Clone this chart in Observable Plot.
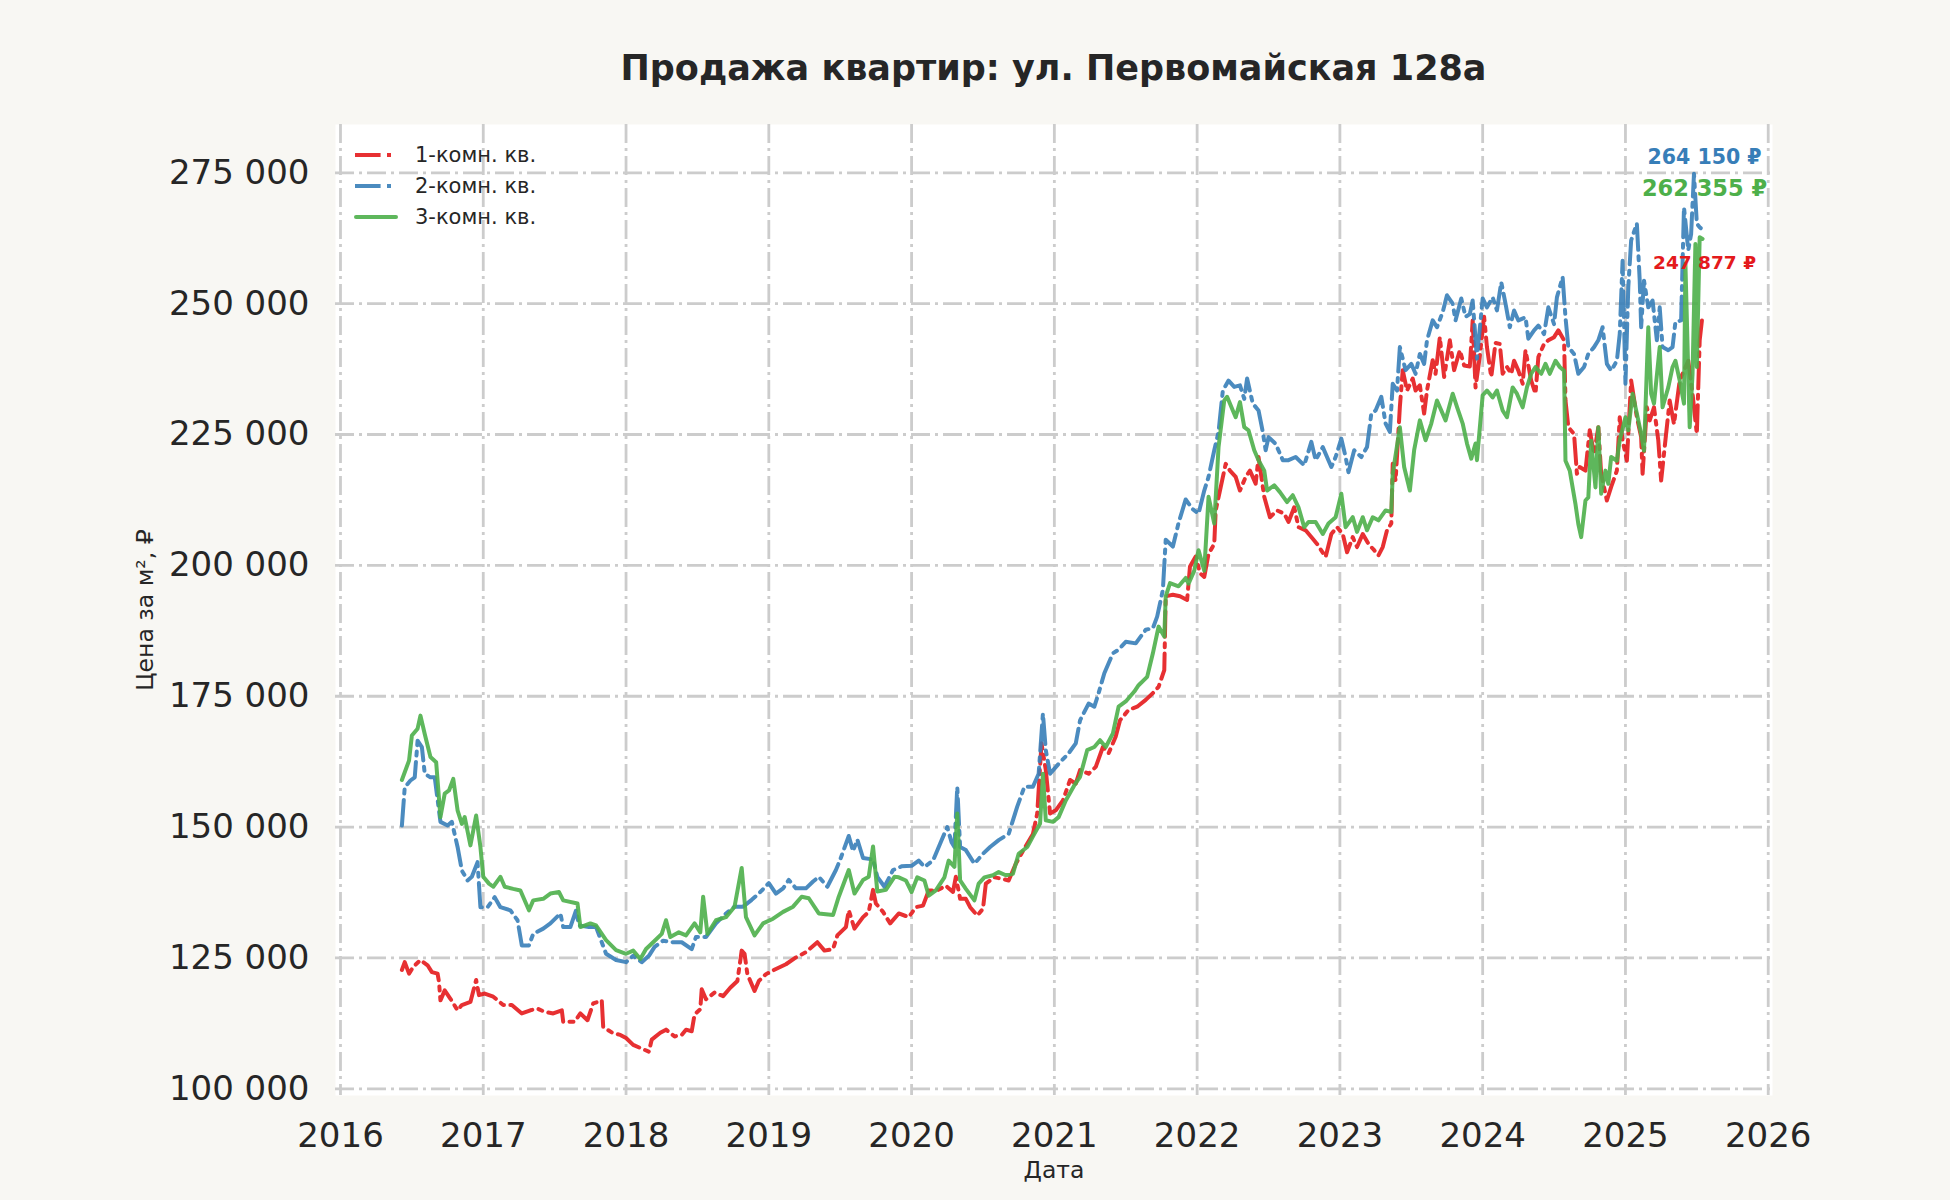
<!DOCTYPE html>
<html>
<head>
<meta charset="utf-8">
<script src="https://cdn.jsdelivr.net/npm/d3@7"></script>
<script src="https://cdn.jsdelivr.net/npm/@observablehq/plot@0.6"></script>
<style>
  html, body { margin: 0; padding: 0; background: #f8f7f3; }
  #wrap { position: relative; width: 1950px; height: 1200px; font-family: "DejaVu Sans", sans-serif; color: #262626; }
  #title { position: absolute; left: 335px; width: 1437px; top: 46px; text-align: center; font-size: 35px; font-weight: bold; line-height: 44px; }
  #legend { position: absolute; left: 354px; top: 139px; font-size: 21px; }
  .row { display: flex; align-items: center; height: 31px; }
  .row svg { width: 44px; height: 10px; margin-right: 17px; }
  #chart { position: absolute; left: 0; top: 0; }
</style>
</head>
<body>
<div id="wrap">
  <div id="chart"></div>
  <div id="title"></div>
  <div id="legend"></div>
</div>
<script>
// ---------- data ----------
const chartTitle = "Продажа квартир: ул. Первомайская 128а";
const axisTitleX = "Дата";
const axisTitleY = "Цена за м², ₽";
const seriesNames = ["1-комн. кв.", "2-комн. кв.", "3-комн. кв."];
const seriesColors = ["#e41a1c", "#377eb8", "#4daf4a"];
const yearTicks = [2016, 2017, 2018, 2019, 2020, 2021, 2022, 2023, 2024, 2025, 2026];
const priceTicks = [100000, 125000, 150000, 175000, 200000, 225000, 250000, 275000];

// 1-комн. кв.
const datesOne = [2016.43,2016.45,2016.48,2016.51,2016.56,2016.61,2016.64,2016.68,2016.69,2016.70,2016.73,2016.77,2016.82,2016.85,2016.91,2016.95,2016.97,2017.01,2017.07,2017.14,2017.20,2017.27,2017.33,2017.38,2017.43,2017.49,2017.55,2017.56,2017.64,2017.68,2017.73,2017.77,2017.83,2017.84,2017.91,2017.96,2018.00,2018.05,2018.10,2018.16,2018.18,2018.24,2018.28,2018.34,2018.39,2018.42,2018.46,2018.48,2018.52,2018.53,2018.56,2018.62,2018.68,2018.73,2018.78,2018.81,2018.83,2018.85,2018.90,2018.93,2018.98,2019.05,2019.12,2019.19,2019.26,2019.34,2019.39,2019.45,2019.48,2019.54,2019.56,2019.60,2019.66,2019.70,2019.73,2019.75,2019.80,2019.85,2019.91,2019.98,2020.03,2020.08,2020.12,2020.18,2020.24,2020.29,2020.31,2020.34,2020.38,2020.41,2020.46,2020.50,2020.52,2020.58,2020.64,2020.68,2020.73,2020.79,2020.85,2020.88,2020.91,2020.94,2020.97,2021.01,2021.06,2021.11,2021.15,2021.18,2021.24,2021.29,2021.34,2021.38,2021.43,2021.46,2021.52,2021.58,2021.64,2021.69,2021.73,2021.77,2021.78,2021.83,2021.88,2021.93,2021.95,2021.99,2022.02,2022.05,2022.08,2022.12,2022.13,2022.16,2022.20,2022.23,2022.27,2022.30,2022.34,2022.37,2022.41,2022.43,2022.47,2022.51,2022.56,2022.61,2022.64,2022.68,2022.71,2022.76,2022.81,2022.84,2022.90,2022.94,2022.98,2023.02,2023.05,2023.09,2023.12,2023.16,2023.20,2023.24,2023.27,2023.30,2023.33,2023.36,2023.37,2023.39,2023.42,2023.44,2023.47,2023.51,2023.53,2023.56,2023.59,2023.61,2023.65,2023.67,2023.70,2023.73,2023.77,2023.80,2023.84,2023.87,2023.91,2023.93,2023.95,2023.98,2024.01,2024.03,2024.06,2024.09,2024.12,2024.14,2024.17,2024.20,2024.22,2024.25,2024.28,2024.30,2024.34,2024.37,2024.39,2024.43,2024.46,2024.50,2024.53,2024.57,2024.58,2024.60,2024.64,2024.66,2024.68,2024.72,2024.75,2024.78,2024.81,2024.83,2024.87,2024.90,2024.94,2024.96,2024.98,2025.01,2025.04,2025.08,2025.11,2025.12,2025.15,2025.17,2025.20,2025.23,2025.25,2025.28,2025.31,2025.34,2025.38,2025.40,2025.44,2025.47,2025.50,2025.52,2025.54];
const pricesOne = [122700,124200,122000,123300,124600,123600,122300,122000,120400,116900,118800,117200,115000,116000,116600,120800,117900,118200,117600,116000,116000,114400,115000,115300,114700,114400,115000,112800,112800,114400,113100,116300,116900,111800,110600,110300,109700,108400,107800,107100,109400,110700,111300,110000,110300,111300,111000,114200,115200,119000,117100,118400,117700,119300,120600,126400,125800,121900,118700,120600,121900,122900,123800,125100,126100,128000,126400,126700,129300,130900,134100,130600,132800,133800,138000,135400,133800,131600,133500,132800,134700,135000,137900,137900,138800,137600,140500,136300,136300,134700,133100,134400,139200,140400,140100,139800,143000,145900,148700,152600,166000,160900,152600,153200,155100,159000,158300,160900,160200,161500,165300,164100,167300,170400,172400,173000,174300,175600,176800,180000,194100,194400,194100,193400,199800,201700,198500,197800,202200,204100,210500,214300,219400,218100,216900,214300,216900,218100,215600,220700,213100,209200,210500,209900,208300,211100,207300,206700,205100,204100,201600,206000,207300,206000,202500,205400,203500,206000,204100,202900,201900,203500,206700,208000,219400,216200,230300,237300,233400,235700,233400,234400,229000,233400,239200,236600,243600,236000,243000,237300,241100,238200,238000,246800,234000,240000,247500,241700,236000,242500,242300,236600,237900,236600,239100,237200,234700,241100,235300,232800,239800,242300,243000,243600,244900,243000,231500,226400,225100,217500,218800,218100,225800,221300,226400,217500,212400,215000,218100,228300,223900,220000,235300,228300,224500,217500,230200,227700,230200,223900,216200,223900,231500,227000,235300,236600,239100,232800,225100,243000,247877];

// 2-комн. кв.
const datesTwo = [2016.43,2016.45,2016.49,2016.52,2016.54,2016.57,2016.59,2016.63,2016.66,2016.70,2016.75,2016.78,2016.82,2016.85,2016.89,2016.92,2016.96,2016.98,2017.03,2017.08,2017.12,2017.19,2017.24,2017.27,2017.32,2017.35,2017.42,2017.47,2017.54,2017.56,2017.61,2017.65,2017.67,2017.74,2017.79,2017.86,2017.93,2018.00,2018.05,2018.11,2018.16,2018.20,2018.26,2018.33,2018.39,2018.46,2018.49,2018.56,2018.63,2018.70,2018.76,2018.82,2018.88,2018.93,2019.00,2019.05,2019.10,2019.14,2019.19,2019.26,2019.31,2019.35,2019.41,2019.47,2019.50,2019.56,2019.59,2019.62,2019.66,2019.73,2019.76,2019.81,2019.87,2019.93,2020.00,2020.05,2020.09,2020.15,2020.21,2020.25,2020.28,2020.30,2020.32,2020.34,2020.38,2020.44,2020.50,2020.55,2020.61,2020.68,2020.74,2020.79,2020.85,2020.89,2020.92,2020.94,2020.97,2021.03,2021.10,2021.15,2021.18,2021.24,2021.28,2021.31,2021.35,2021.41,2021.45,2021.50,2021.57,2021.64,2021.69,2021.72,2021.76,2021.78,2021.83,2021.87,2021.92,2021.97,2022.01,2022.05,2022.08,2022.12,2022.15,2022.18,2022.22,2022.26,2022.30,2022.33,2022.35,2022.39,2022.43,2022.46,2022.48,2022.50,2022.55,2022.60,2022.64,2022.69,2022.75,2022.80,2022.83,2022.88,2022.94,2022.97,2023.01,2023.04,2023.06,2023.10,2023.15,2023.19,2023.22,2023.25,2023.29,2023.32,2023.35,2023.37,2023.40,2023.42,2023.46,2023.50,2023.53,2023.56,2023.59,2023.61,2023.65,2023.68,2023.72,2023.75,2023.79,2023.81,2023.85,2023.88,2023.91,2023.93,2023.96,2024.00,2024.03,2024.07,2024.10,2024.13,2024.16,2024.19,2024.22,2024.25,2024.30,2024.32,2024.36,2024.39,2024.43,2024.46,2024.50,2024.52,2024.56,2024.58,2024.60,2024.64,2024.67,2024.71,2024.74,2024.78,2024.81,2024.84,2024.87,2024.90,2024.94,2024.96,2024.98,2025.00,2025.02,2025.04,2025.08,2025.10,2025.11,2025.13,2025.16,2025.19,2025.22,2025.24,2025.26,2025.30,2025.33,2025.35,2025.39,2025.41,2025.44,2025.46,2025.48,2025.50,2025.52,2025.54];
const pricesTwo = [150300,157600,158900,159500,166500,165300,160200,159500,159500,151000,150300,151000,146200,141700,139800,140500,143300,134700,134700,136600,134700,134100,132200,127400,127400,129600,130600,131600,133500,130900,130900,134100,131200,130900,130900,125800,124600,124200,125400,124200,125400,127100,128300,128000,128000,126700,129000,129000,131600,133500,134800,134800,136100,137300,139300,137300,138300,139900,138300,138300,139600,140500,138600,141800,143800,148300,145400,147600,144100,143800,140500,138600,141800,142500,142600,143600,142400,143600,147500,150000,147100,146200,157700,146200,145600,143000,144900,146200,147500,148700,153900,157700,157700,160200,171700,164700,160200,162100,164100,166000,170400,173600,173000,175600,179400,183200,183900,185400,185100,187700,188000,190200,195300,204900,203600,208100,212600,210700,209900,214300,216900,222000,225500,233400,235300,234100,234400,231800,235700,230900,229600,225500,222000,224500,223200,220100,220100,220700,219100,223600,220100,222600,218800,220700,224200,220700,217800,222000,220700,222600,229000,229600,232200,227100,225500,234700,233400,241700,237300,238500,236600,240400,238500,243000,246800,245500,248400,251600,250000,246800,251000,247500,248000,250600,239500,251000,249300,251200,248700,254100,250000,245500,248700,246800,247400,243300,244900,245800,244200,249300,246100,251200,255100,247400,241700,240400,236600,237900,240400,241700,243000,245500,238500,237200,239100,244200,258200,234700,253200,262100,265300,254400,245500,254400,249300,250600,243000,249300,241700,241100,241700,246500,246800,268400,260200,263300,274800,265300,264600,264150];

// 3-комн. кв.
const datesThree = [2016.43,2016.48,2016.50,2016.54,2016.56,2016.59,2016.63,2016.67,2016.70,2016.73,2016.76,2016.79,2016.82,2016.85,2016.87,2016.91,2016.95,2016.98,2017.00,2017.04,2017.07,2017.12,2017.15,2017.21,2017.26,2017.32,2017.35,2017.42,2017.47,2017.53,2017.56,2017.66,2017.68,2017.75,2017.79,2017.86,2017.93,2018.00,2018.05,2018.10,2018.14,2018.19,2018.25,2018.28,2018.31,2018.37,2018.42,2018.48,2018.52,2018.54,2018.57,2018.63,2018.70,2018.76,2018.81,2018.84,2018.90,2018.96,2019.03,2019.10,2019.17,2019.23,2019.28,2019.35,2019.45,2019.49,2019.56,2019.60,2019.66,2019.70,2019.73,2019.76,2019.82,2019.88,2019.91,2019.96,2020.00,2020.04,2020.09,2020.12,2020.17,2020.23,2020.26,2020.30,2020.32,2020.34,2020.38,2020.44,2020.47,2020.51,2020.57,2020.61,2020.66,2020.71,2020.75,2020.81,2020.86,2020.90,2020.92,2020.94,2020.99,2021.03,2021.08,2021.14,2021.18,2021.23,2021.28,2021.32,2021.36,2021.41,2021.45,2021.50,2021.56,2021.59,2021.65,2021.69,2021.73,2021.77,2021.78,2021.81,2021.87,2021.92,2021.94,2021.98,2022.01,2022.05,2022.08,2022.12,2022.15,2022.19,2022.21,2022.25,2022.27,2022.30,2022.33,2022.36,2022.40,2022.43,2022.47,2022.49,2022.54,2022.58,2022.63,2022.67,2022.71,2022.75,2022.78,2022.83,2022.88,2022.92,2022.97,2023.01,2023.04,2023.09,2023.12,2023.16,2023.19,2023.23,2023.27,2023.32,2023.36,2023.37,2023.42,2023.45,2023.49,2023.52,2023.56,2023.60,2023.64,2023.68,2023.74,2023.79,2023.82,2023.86,2023.89,2023.92,2023.95,2023.96,2024.00,2024.03,2024.07,2024.10,2024.14,2024.17,2024.21,2024.24,2024.28,2024.31,2024.34,2024.37,2024.41,2024.44,2024.47,2024.51,2024.54,2024.57,2024.58,2024.61,2024.65,2024.67,2024.69,2024.72,2024.74,2024.76,2024.79,2024.81,2024.83,2024.86,2024.88,2024.90,2024.94,2024.96,2025.00,2025.02,2025.05,2025.08,2025.11,2025.13,2025.16,2025.18,2025.20,2025.24,2025.26,2025.30,2025.33,2025.35,2025.38,2025.41,2025.42,2025.45,2025.47,2025.49,2025.50,2025.52,2025.54];
const pricesThree = [159000,162700,167500,168800,171300,167800,163400,162400,151900,156400,157000,159200,153200,150600,151900,146500,152200,146200,140500,139200,138600,140500,138600,138200,137900,134100,136000,136300,137300,137600,136000,135400,130900,131600,131200,128400,126500,125800,126400,124800,126700,128000,129600,132200,129000,129900,129300,131600,129900,136700,129600,132200,132800,134800,142200,132800,129300,131600,132500,133800,134800,136700,136400,133500,133200,136700,141800,137300,139900,140500,146300,137700,138000,140500,140400,139800,137600,140400,139800,136900,137900,140400,143600,142400,152600,139800,138200,136000,139200,140400,140800,141400,140800,141100,144900,146200,148700,150700,160200,151300,151000,151900,155100,158000,159600,164700,165300,166600,165300,167900,173000,174000,175900,177100,178700,183200,188300,186400,194100,196600,196000,197600,196500,199000,202900,199000,213100,208000,222600,231500,232200,229600,228300,231200,226400,225800,222000,220100,218100,214300,215300,214000,212100,213400,211100,207300,208300,208300,206000,208000,209200,213700,207300,209200,206400,209200,206700,209200,208600,210500,210200,217500,226400,218800,214300,222000,227700,223900,227100,231500,227700,232800,230300,227100,223300,220400,223300,220100,232500,233400,232100,233400,229600,228300,234000,232800,230200,234000,236600,237900,236600,238500,236600,239100,237900,237200,220000,218100,211700,207900,205400,212400,213000,223800,214900,226400,213700,218100,215600,220700,220000,223900,228300,225800,232800,229000,225100,221900,245500,232800,230900,241700,230200,234000,237900,239100,235300,230900,257600,226400,236600,261400,237900,262700,262355];

// ---------- build ----------
const rows = (xs, ys) => xs.map((x, i) => ({date: x, price: ys[i]}));
const one = rows(datesOne, pricesOne);
const two = rows(datesTwo, pricesTwo);
const three = rows(datesThree, pricesThree);

const spaceFmt = d3.formatLocale({decimal: ",", thousands: " ", grouping: [3], currency: ["", ""]}).format(",d");
const rub = v => spaceFmt(v) + " ₽";

document.getElementById("title").textContent = chartTitle;

const dashDot = "25.6,6.4,4,6.4";
const gridDash = "19,5,3,5";
const gridStyle = {stroke: "#cccccc", strokeOpacity: 1, strokeWidth: 2.8, strokeDasharray: gridDash};

const chart = Plot.plot({
  width: 1950,
  height: 1200,
  marginLeft: 335,
  marginRight: 178,
  marginTop: 124,
  marginBottom: 105,
  style: {background: "transparent", fontFamily: "'DejaVu Sans', sans-serif", color: "#262626", overflow: "visible"},
  x: {type: "linear", domain: [2015.965, 2026.03]},
  y: {type: "linear", domain: [98720, 284230]},
  marks: [
    Plot.frame({fill: "white", stroke: "none"}),
    Plot.gridX(yearTicks, gridStyle),
    Plot.gridY(priceTicks, gridStyle),
    Plot.axisX(yearTicks, {tickSize: 0, tickPadding: 27, fontSize: 34, tickFormat: d => String(d), label: null, fill: "#262626"}),
    Plot.axisY(priceTicks, {tickSize: 0, tickPadding: 26, fontSize: 34, tickFormat: spaceFmt, label: null, fill: "#262626"}),
    Plot.text([axisTitleY], {text: d => d, frameAnchor: "left", textAnchor: "middle", lineAnchor: "middle", dx: -190, rotate: -90, fontSize: 23.5, fill: "#262626"}),
    Plot.text([axisTitleX], {text: d => d, frameAnchor: "bottom", textAnchor: "middle", lineAnchor: "middle", dy: 75, fontSize: 23.5, fill: "#262626"}),
    Plot.line(one, {x: "date", y: "price", stroke: seriesColors[0], strokeWidth: 4, strokeOpacity: 0.9, strokeDasharray: dashDot, strokeLinejoin: "round"}),
    Plot.line(two, {x: "date", y: "price", stroke: seriesColors[1], strokeWidth: 4, strokeOpacity: 0.9, strokeDasharray: dashDot, strokeLinejoin: "round"}),
    Plot.line(three, {x: "date", y: "price", stroke: seriesColors[2], strokeWidth: 4, strokeOpacity: 0.9, strokeLinejoin: "round"}),
    Plot.text(one.slice(-1), {x: "date", y: "price", text: d => rub(d.price), dx: 2, dy: -52, fontSize: 18.5, fontWeight: "bold", fill: seriesColors[0]}),
    Plot.text(two.slice(-1), {x: "date", y: "price", text: d => rub(d.price), dx: 2, dy: -72, fontSize: 20.5, fontWeight: "bold", fill: seriesColors[1]}),
    Plot.text(three.slice(-1), {x: "date", y: "price", text: d => rub(d.price), dx: 2, dy: -50, fontSize: 22.5, fontWeight: "bold", fill: seriesColors[2]})
  ]
});
document.getElementById("chart").appendChild(chart);

// legend
const legend = document.getElementById("legend");
seriesNames.forEach((name, i) => {
  const row = document.createElement("div");
  row.className = "row";
  const line = i < 2
    ? `<line x1="1" y1="5" x2="40" y2="5" stroke="${seriesColors[i]}" stroke-opacity="0.9" stroke-width="4" stroke-dasharray="25.6,6.4,4,6.4"/>`
    : `<line x1="2" y1="5" x2="42" y2="5" stroke="${seriesColors[i]}" stroke-opacity="0.9" stroke-width="4" stroke-linecap="round"/>`;
  row.innerHTML = `<svg viewBox="0 0 44 10">${line}</svg><span>${name}</span>`;
  legend.appendChild(row);
});
</script>
</body>
</html>
